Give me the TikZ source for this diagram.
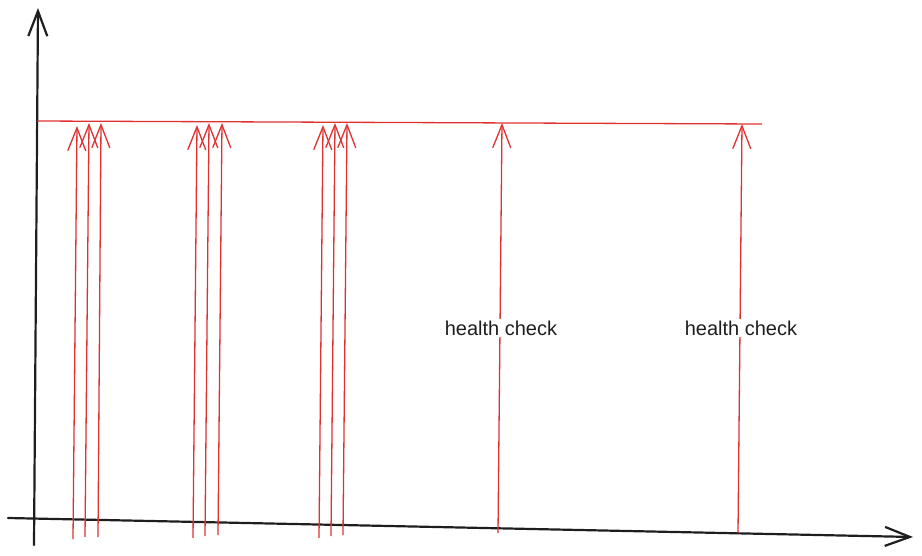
\documentclass[tikz,border=0pt]{standalone}
\usepackage{fontspec}
\setmainfont{Liberation Sans}
\usetikzlibrary{arrows.meta}
\definecolor{exred}{HTML}{E03131}
\definecolor{exblack}{HTML}{1E1E1E}
\tikzset{
  axis/.style={draw=exblack, line width=2.2pt, line cap=round, -{Straight Barb[length=25pt,width=19pt,line width=2.2pt]}},
  event/.style={draw=exred, line width=1.3pt, -{Straight Barb[length=23pt,width=18pt,line width=1.3pt]}},
  baseline/.style={draw=exred, line width=1.3pt},
  lbl/.style={fill=white, inner sep=2pt, font=\fontsize{20pt}{24pt}\selectfont, text=exblack}
}
\begin{document}
\begin{tikzpicture}[x=1pt,y=-1pt]
\useasboundingbox (0,0) rectangle (922,555);
% axes
\coordinate (yb) at (34,545);
\coordinate (yt) at (38,8);
\coordinate (xl) at (8,518);
\coordinate (xr) at (913,537);
\draw[axis] (yb) -- (yt);
\draw[axis] (xl) -- (xr);
% red baseline
\coordinate (rl) at (37,121);
\coordinate (rr) at (762,124);
\draw[baseline] (rl) -- (rr);
% group 1
\coordinate (a1) at (73,539); \coordinate (A1) at (77,126);
\coordinate (a2) at (85,537); \coordinate (A2) at (89,123);
\coordinate (a3) at (98,537); \coordinate (A3) at (101,123);
% group 2
\coordinate (b1) at (193,538); \coordinate (B1) at (197,125);
\coordinate (b2) at (205,536); \coordinate (B2) at (209,123);
\coordinate (b3) at (218,535); \coordinate (B3) at (222,123);
% group 3
\coordinate (c1) at (319,538); \coordinate (C1) at (323,125);
\coordinate (c2) at (331,536); \coordinate (C2) at (335,123);
\coordinate (c3) at (343,535); \coordinate (C3) at (347,123);
% health checks
\coordinate (h1) at (498,533); \coordinate (H1) at (502,123);
\coordinate (h2) at (738,533); \coordinate (H2) at (742,124);
\foreach \s/\t in {a1/A1,a2/A2,a3/A3,b1/B1,b2/B2,b3/B3,c1/C1,c2/C2,c3/C3,h1/H1,h2/H2}
  \draw[event] (\s) -- (\t);
\node[lbl] (l1) at (501,328) {health check};
\node[lbl] (l2) at (741,328) {health check};
\end{tikzpicture}
\end{document}
